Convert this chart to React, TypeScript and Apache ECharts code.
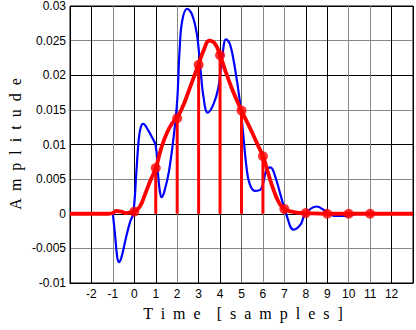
import React, { useEffect, useRef } from "react";
import * as echarts from "echarts";

// Blue continuous response (time in samples, amplitude)
const blueX = [-1, -0.9, -0.8, -0.72, -0.6, -0.4, -0.2, -0.05, 0.1, 0.2, 0.3, 0.42, 0.6, 0.8, 1.0, 1.1, 1.18, 1.27, 1.4, 1.62, 1.85, 2.0, 2.11, 2.23, 2.46, 2.69, 2.92, 3.08, 3.23, 3.42, 3.69, 3.92, 4.08, 4.28, 4.46, 4.69, 4.92, 5.08, 5.23, 5.38, 5.62, 5.92, 6.15, 6.35, 6.54, 6.85, 7.08, 7.43, 7.77, 7.97, 8.5, 9.0, 9.3, 9.9, 10.5, 11];
const blueY = [0, -0.003, -0.0062, -0.007, -0.0063, -0.0036, -0.0012, 0, 0.0062, 0.0105, 0.0125, 0.013, 0.0123, 0.0112, 0.0098, 0.006, 0.0035, 0.0024, 0.0032, 0.0062, 0.0115, 0.0163, 0.0235, 0.0278, 0.0296, 0.0288, 0.0259, 0.0211, 0.0168, 0.0146, 0.0158, 0.0182, 0.022, 0.0252, 0.0245, 0.0211, 0.0163, 0.0115, 0.0068, 0.0043, 0.0033, 0.0036, 0.0062, 0.0067, 0.0057, 0.0024, 0, -0.0023, -0.0015, 0, 0.00105, 0.0002, -0.0003, -0.0003, 0, 0];

// Red smooth (interpolated) curve
const redX = [-3, -1.2, -1, -0.85, -0.6, -0.4, -0.2, 0, 0.25, 0.5, 0.75, 1, 1.25, 1.5, 1.75, 2, 2.25, 2.5, 2.75, 3, 3.25, 3.5, 3.75, 4, 4.25, 4.5, 4.75, 5, 5.25, 5.5, 5.75, 6, 6.25, 6.5, 6.75, 7, 7.5, 8, 9, 13];
const redY = [0, 0, 0.0001, 0.0004, 0.0003, 0.0001, 0.0002, 0.0003, 0.001, 0.0028, 0.0048, 0.0066, 0.0094, 0.0115, 0.013, 0.0139, 0.0154, 0.0174, 0.0195, 0.0216, 0.0237, 0.025, 0.0246, 0.0229, 0.0206, 0.0185, 0.0166, 0.0149, 0.0133, 0.0117, 0.01, 0.0083, 0.0058, 0.0034, 0.0016, 0.0007, 0.0002, 0.0001, 0, 0];

// Samples
const sampleN = [0, 1, 2, 3, 4, 5, 6, 7, 8, 9, 10, 11];
const sampleV = [0.0003, 0.0066, 0.0138, 0.0215, 0.0229, 0.0149, 0.0083, 0.0007, 0.0001, 0, 0, 0];

const xTickMin = -3;
const xTickMax = 13;
const yTickMin = -0.01;
const yTickMax = 0.03;

const xGridColors = ["#000", "#000", "#888", "#000", "#000", "#888", "#000", "#000", "#666", "#888", "#888", "#000", "#000", "#888", "#888", "#000", "#000"];
const yGridColors = ["#000", "#888"];

export default function App() {
  const ref = useRef<HTMLDivElement>(null);
  useEffect(() => {
    if (!ref.current) return;
    const chart = echarts.init(ref.current, undefined, { renderer: "svg" });
    const blue = blueX.map((x, i) => [x, blueY[i]]);
    const red = redX.map((x, i) => [x, redY[i]]);
    const samples = sampleN.map((n, i) => [n, sampleV[i]]);
    chart.setOption({
      animation: false,
      backgroundColor: "#fff",
      grid: {
        left: 70,
        top: 5,
        width: 347,
        height: 278,
        show: true,
        borderColor: "#000",
        borderWidth: 1,
        backgroundColor: "transparent",
      },
      xAxis: {
        type: "value",
        min: xTickMin,
        max: xTickMax,
        interval: 1,
        axisLine: { show: true, onZero: false, lineStyle: { color: "#000", width: 1 } },
        axisTick: { show: false },
        axisLabel: {
          color: "#000",
          fontFamily: "Liberation Sans",
          fontSize: 12,
          margin: 5,
          formatter: (v: number) => (v <= xTickMin || v >= xTickMax ? "" : String(v)),
        },
        splitLine: { show: true, lineStyle: { color: xGridColors, width: 1 } },
      },
      yAxis: {
        type: "value",
        min: yTickMin,
        max: yTickMax,
        interval: 0.005,
        axisLine: { show: true, lineStyle: { color: "#000", width: 1 } },
        axisTick: { show: false },
        axisLabel: {
          color: "#000",
          fontFamily: "Liberation Sans",
          fontSize: 12,
          margin: 4,
        },
        splitLine: { show: true, lineStyle: { color: yGridColors, width: 1 } },
      },
      graphic: [
        {
          type: "text",
          x: 15,
          y: 144,
          rotation: Math.PI / 2,
          style: {
            text: "A  m  p  l  i  t  u  d  e",
            font: "16px 'Liberation Serif'",
            fill: "#000",
            align: "center",
            verticalAlign: "middle",
          },
        },
        {
          type: "text",
          x: 243,
          y: 313,
          style: {
            text: "T  i  m  e    [  s  a  m  p  l  e  s  ]",
            font: "16px 'Liberation Serif'",
            fill: "#000",
            align: "center",
            verticalAlign: "middle",
          },
        },
      ],
      series: [
        {
          type: "line",
          data: blue,
          smooth: 0.4,
          showSymbol: false,
          lineStyle: { color: "#0000ff", width: 2.2 },
          z: 2,
        },
        {
          type: "line",
          data: red,
          smooth: 0.5,
          showSymbol: false,
          lineStyle: { color: "#ff0000", width: 3.8 },
          z: 3,
        },
        {
          type: "bar",
          data: samples,
          barWidth: 3,
          itemStyle: { color: "#ff0000" },
          z: 4,
        },
        {
          type: "scatter",
          data: samples,
          symbolSize: 10,
          itemStyle: { color: "#ff0000" },
          z: 5,
        },
      ],
    });
    return () => chart.dispose();
  }, []);
  return (
    <div
      ref={ref}
      style={{ position: "fixed", left: 0, top: 0, width: 416, height: 330 }}
    />
  );
}
